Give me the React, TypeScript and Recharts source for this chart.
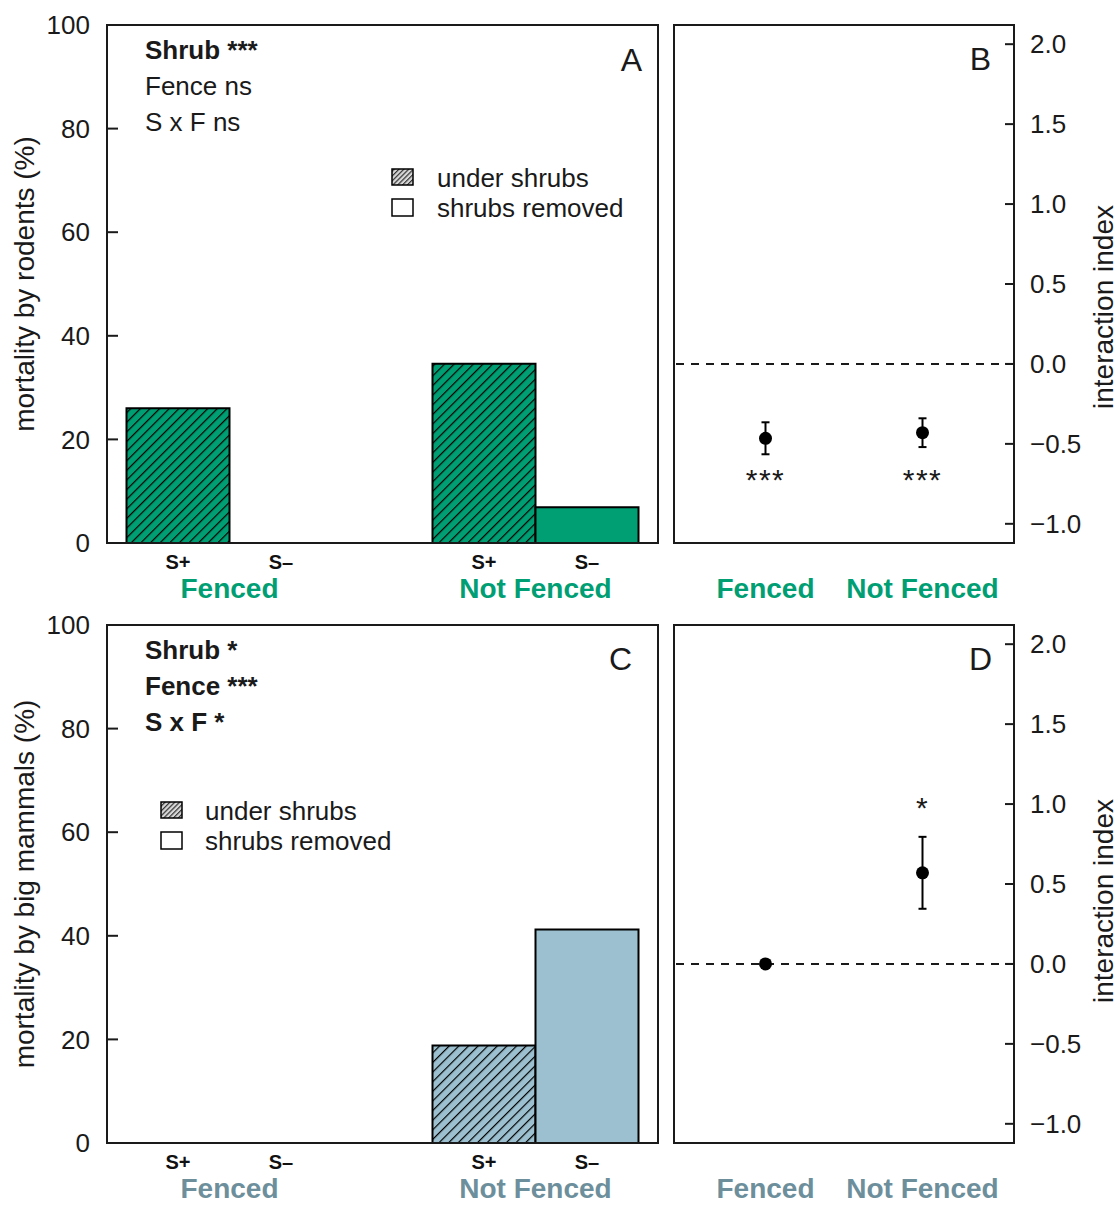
import React from "react";
import {
  BarChart,
  Bar,
  XAxis,
  YAxis,
  ScatterChart,
  Scatter,
  ErrorBar,
  ReferenceLine,
} from "recharts";

const FONT = "'Liberation Sans', Arial, sans-serif";
const INK = "#1a1a1a";
const GREEN = "#009E73";
const BLUE = "#9cc0cf";
const BLUE_TEXT = "#6d8f9c";

// data
const groups = ["Fenced", "Not Fenced"];
const treatments = ["S+", "S\u2013"]; // under shrubs, shrubs removed
const rodentUnderShrubs = [26, 34.6];
const rodentShrubsRemoved = [0, 6.9];
const mammalUnderShrubs = [0, 18.8];
const mammalShrubsRemoved = [0, 41.2];

const rodentIndex = [-0.465, -0.43];
const rodentIndexErr = [0.1, 0.09];
const rodentIndexSig = ["***", "***"];
const mammalIndex = [0, 0.57];
const mammalIndexErr = [0, 0.225];
const mammalIndexSig = ["", "*"];

const mortalityTicks = [0, 20, 40, 60, 80, 100];
const indexTicks = [-1, -0.5, 0, 0.5, 1, 1.5, 2];

// bar layout
const BAR_PLOT_W = 551;
const BAR_PAD = -30.5;
const BAR_CAT_GAP = 50;
const BAND = (BAR_PLOT_W - 2 * BAR_PAD) / groups.length;
const BAR_W = (BAND - 2 * BAR_CAT_GAP) / treatments.length;

const fmtIndex = (v: number) => v.toFixed(1).replace("-", "\u2212");

const LeftTick = (p: any) => (
  <g>
    <line x1={p.x} x2={p.x + 11} y1={p.y} y2={p.y} stroke={INK} strokeWidth={2} />
    <text x={p.x - 17} y={p.y} dy="0.35em" textAnchor="end" fontSize={26} fill={INK} fontFamily={FONT}>
      {p.payload.value}
    </text>
  </g>
);

const RightTick = (p: any) => (
  <g>
    <line x1={p.x - 9} x2={p.x} y1={p.y} y2={p.y} stroke={INK} strokeWidth={2} />
    <text x={p.x + 16} y={p.y} dy="0.35em" textAnchor="start" fontSize={26} fill={INK} fontFamily={FONT}>
      {fmtIndex(p.payload.value)}
    </text>
  </g>
);

const groupTick = (color: string, withTags: boolean) => (p: any) => (
  <g>
    {withTags &&
      treatments.map((t, i) => (
        <text
          key={t}
          x={p.x + (i - (treatments.length - 1) / 2) * BAR_W}
          y={p.y + 26}
          textAnchor="middle"
          fontSize={20}
          fontWeight="bold"
          fill="#111"
          fontFamily={FONT}
        >
          {t}
        </text>
      ))}
    <text x={p.x} y={p.y + 55} textAnchor="middle" fontSize={28} fontWeight="bold" fill={color} fontFamily={FONT}>
      {p.payload.value}
    </text>
  </g>
);

const Dot = (p: any) => <circle cx={p.cx} cy={p.cy} r={6.5} fill="#000" />;

const Star = (p: any) =>
  p.payload.sig ? (
    <text x={p.cx} y={p.cy + 17} textAnchor="middle" fontSize={30} letterSpacing={1.5} fill={INK} fontFamily={FONT}>
      {p.payload.sig}
    </text>
  ) : (
    <g />
  );

function MortalityPanel({ top, under, removed, hatchId, fill, labelColor }: any) {
  const data = groups.map((g, i) => ({ group: g, under: under[i], removed: removed[i] }));
  return (
    <div style={{ position: "absolute", left: 0, top }}>
      <BarChart
        width={670}
        height={615}
        data={data}
        margin={{ top: 25, left: 57, right: 12, bottom: 42 }}
        barGap={0}
        barCategoryGap={BAR_CAT_GAP}
      >
        <XAxis
          dataKey="group"
          height={30}
          axisLine={false}
          tickLine={false}
          tickSize={0}
          tickMargin={0}
          interval={0}
          padding={{ left: BAR_PAD, right: BAR_PAD }}
          tick={groupTick(labelColor, true)}
        />
        <YAxis
          width={50}
          type="number"
          domain={[0, 100]}
          ticks={mortalityTicks}
          allowDataOverflow
          axisLine={false}
          tickLine={false}
          tickSize={0}
          tickMargin={0}
          interval={0}
          tick={LeftTick}
        />
        <Bar dataKey="under" fill={`url(#${hatchId})`} stroke="#000" strokeWidth={2} isAnimationActive={false} />
        <Bar dataKey="removed" fill={fill} stroke="#000" strokeWidth={2} isAnimationActive={false} />
      </BarChart>
    </div>
  );
}

function IndexPanel({ top, values, errs, sigs, sigAt, labelColor }: any) {
  const points = groups.map((g, i) => ({ group: g, value: values[i], err: errs[i] }));
  const stars = groups.map((g, i) => ({ group: g, value: sigAt, sig: sigs[i] }));
  return (
    <div style={{ position: "absolute", left: 660, top }}>
      <ScatterChart width={458} height={615} margin={{ top: 25, left: 14, right: 54, bottom: 42 }}>
        <XAxis
          dataKey="group"
          type="category"
          allowDuplicatedCategory={false}
          height={30}
          padding={{ left: 13, right: 13 }}
          axisLine={false}
          tickLine={false}
          tickSize={0}
          tickMargin={0}
          interval={0}
          tick={groupTick(labelColor, false)}
        />
        <YAxis
          dataKey="value"
          orientation="right"
          width={50}
          type="number"
          domain={[-1.12, 2.12]}
          allowDataOverflow
          ticks={indexTicks}
          axisLine={false}
          tickLine={false}
          tickSize={0}
          tickMargin={0}
          interval={0}
          tick={RightTick}
        />
        <ReferenceLine y={0} stroke={INK} strokeWidth={2} strokeDasharray="8 7" />
        <Scatter data={points} dataKey="value" shape={Dot} isAnimationActive={false}>
          <ErrorBar dataKey="err" direction="y" width={4} stroke="#000" strokeWidth={2} />
        </Scatter>
        <Scatter data={stars} dataKey="value" shape={Star} isAnimationActive={false} />
      </ScatterChart>
    </div>
  );
}

function Overlay() {
  const txt = { fontFamily: FONT, fill: INK };
  const frame = { fill: "none", stroke: INK, strokeWidth: 2 };
  return (
    <svg
      width={1118}
      height={1205}
      style={{ position: "absolute", left: 0, top: 0, pointerEvents: "none" }}
    >
      <defs>
        <pattern id="hatchGreen" width={6.8} height={6.8} patternUnits="userSpaceOnUse" patternTransform="rotate(45)">
          <rect width={6.8} height={6.8} fill={GREEN} />
          <line x1={0} y1={0} x2={0} y2={6.8} stroke="#000" strokeWidth={2.4} />
        </pattern>
        <pattern id="hatchBlue" width={6.8} height={6.8} patternUnits="userSpaceOnUse" patternTransform="rotate(45)">
          <rect width={6.8} height={6.8} fill={BLUE} />
          <line x1={0} y1={0} x2={0} y2={6.8} stroke="#000" strokeWidth={2.4} />
        </pattern>
        <pattern id="hatchLegend" width={3.4} height={3.4} patternUnits="userSpaceOnUse" patternTransform="rotate(45)">
          <rect width={3.4} height={3.4} fill="#d8d8d8" />
          <line x1={0} y1={0} x2={0} y2={3.4} stroke="#333" strokeWidth={2.4} />
        </pattern>
      </defs>

      <rect x={107} y={25} width={551} height={518} {...frame} />
      <rect x={674} y={25} width={340} height={518} {...frame} />
      <rect x={107} y={625} width={551} height={518} {...frame} />
      <rect x={674} y={625} width={340} height={518} {...frame} />

      {/* axis titles */}
      <text transform="translate(34,284) rotate(-90)" textAnchor="middle" fontSize={28} {...txt}>
        mortality by rodents (%)
      </text>
      <text transform="translate(34,884) rotate(-90)" textAnchor="middle" fontSize={28} {...txt}>
        mortality by big mammals (%)
      </text>
      <text transform="translate(1113,307) rotate(-90)" textAnchor="middle" fontSize={28} {...txt}>
        interaction index
      </text>
      <text transform="translate(1113,901) rotate(-90)" textAnchor="middle" fontSize={28} {...txt}>
        interaction index
      </text>

      {/* panel letters */}
      <text x={642} y={71} textAnchor="end" fontSize={32} {...txt}>A</text>
      <text x={991} y={70} textAnchor="end" fontSize={32} {...txt}>B</text>
      <text x={632} y={670} textAnchor="end" fontSize={32} {...txt}>C</text>
      <text x={992} y={670} textAnchor="end" fontSize={32} {...txt}>D</text>

      {/* ANOVA results */}
      <text x={145} y={59} fontSize={26} fontWeight="bold" {...txt}>Shrub ***</text>
      <text x={145} y={95} fontSize={26} {...txt}>Fence ns</text>
      <text x={145} y={131} fontSize={26} {...txt}>S x F ns</text>
      <text x={145} y={659} fontSize={26} fontWeight="bold" {...txt}>Shrub *</text>
      <text x={145} y={695} fontSize={26} fontWeight="bold" {...txt}>Fence ***</text>
      <text x={145} y={731} fontSize={26} fontWeight="bold" {...txt}>S x F *</text>

      {/* legends */}
      <rect x={392} y={169} width={21} height={16} fill="url(#hatchLegend)" stroke="#000" strokeWidth={1.5} />
      <rect x={392} y={199} width={21} height={17} fill="#fff" stroke="#000" strokeWidth={1.5} />
      <text x={437} y={187} fontSize={26} {...txt}>under shrubs</text>
      <text x={437} y={217} fontSize={26} {...txt}>shrubs removed</text>
      <rect x={161} y={802} width={21} height={16} fill="url(#hatchLegend)" stroke="#000" strokeWidth={1.5} />
      <rect x={161} y={832} width={21} height={17} fill="#fff" stroke="#000" strokeWidth={1.5} />
      <text x={205} y={820} fontSize={26} {...txt}>under shrubs</text>
      <text x={205} y={850} fontSize={26} {...txt}>shrubs removed</text>
    </svg>
  );
}

export default function App() {
  return (
    <div
      style={{
        position: "absolute",
        left: 0,
        top: 0,
        width: 1118,
        height: 1205,
        background: "#fff",
        fontFamily: FONT,
        overflow: "hidden",
      }}
    >
      <MortalityPanel
        top={0}
        under={rodentUnderShrubs}
        removed={rodentShrubsRemoved}
        hatchId="hatchGreen"
        fill={GREEN}
        labelColor={GREEN}
      />
      <IndexPanel
        top={0}
        values={rodentIndex}
        errs={rodentIndexErr}
        sigs={rodentIndexSig}
        sigAt={-0.68}
        labelColor={GREEN}
      />
      <MortalityPanel
        top={600}
        under={mammalUnderShrubs}
        removed={mammalShrubsRemoved}
        hatchId="hatchBlue"
        fill={BLUE}
        labelColor={BLUE_TEXT}
      />
      <IndexPanel
        top={600}
        values={mammalIndex}
        errs={mammalIndexErr}
        sigs={mammalIndexSig}
        sigAt={1.02}
        labelColor={BLUE_TEXT}
      />
      <Overlay />
    </div>
  );
}
